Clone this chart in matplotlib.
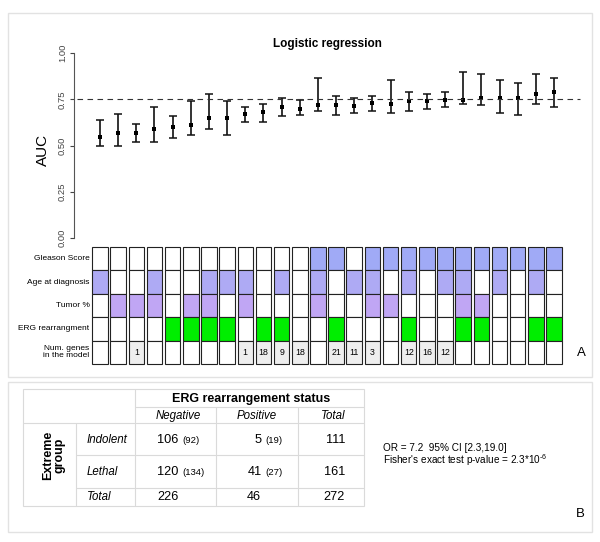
import numpy as np
import matplotlib.pyplot as plt
from matplotlib.patches import Rectangle

plt.rcParams['font.family'] = ['Liberation Sans', 'DejaVu Sans']
plt.rcParams['mathtext.fontset'] = 'custom'
plt.rcParams['mathtext.rm'] = 'Liberation Sans'
plt.rcParams['mathtext.it'] = 'Liberation Sans:italic'

# ---- panel A data: AUC with CI for 26 models ----
auc = [0.548, 0.569, 0.569, 0.589, 0.598, 0.609, 0.649, 0.649, 0.669, 0.679, 0.708, 0.700, 0.717,
       0.717, 0.715, 0.728, 0.726, 0.741, 0.739, 0.748, 0.748, 0.757, 0.757, 0.757, 0.777, 0.788]
auc_lo = [0.497, 0.497, 0.517, 0.517, 0.539, 0.557, 0.587, 0.557, 0.627, 0.627, 0.658, 0.667, 0.686,
          0.667, 0.676, 0.686, 0.676, 0.686, 0.697, 0.706, 0.726, 0.717, 0.676, 0.667, 0.726, 0.706]
auc_hi = [0.638, 0.669, 0.618, 0.706, 0.658, 0.742, 0.777, 0.739, 0.706, 0.726, 0.757, 0.746, 0.867,
          0.766, 0.757, 0.766, 0.856, 0.788, 0.777, 0.788, 0.896, 0.886, 0.856, 0.836, 0.886, 0.867]

# which variables are in each model
gleason = [0,0,0,0,0,0,0,0,0,0,0,0, 1,1,0,1,1,1,1,1,1,1,1,1,1,1]
age     = [1,0,0,1,0,0,1,1,1,0,1,0, 1,0,1,1,0,1,0,1,1,0,1,0,1,0]
tumor   = [0,1,1,1,0,1,1,0,1,0,0,0, 1,0,0,1,1,0,0,0,1,1,0,0,0,0]
erg     = [0,0,0,0,1,1,1,1,0,1,1,0, 0,1,0,0,0,1,0,0,1,1,0,0,1,1]
n_genes = ["", "", "1", "", "", "", "", "", "1", "18", "9", "18", "",
           "21", "11", "3", "", "12", "16", "12", "", "", "", "", "", ""]

row_labels = ["Gleason Score", "Age at diagnosis", "Tumor %", "ERG rearrangment",
              "Num. genes\nin the model"]
row_colors = ['#A0AAF6', '#AEAAF4', '#C0A6F4', '#00EE00']

# ---- panel B data ----
groups = ["Indolent", "Lethal"]
neg_obs = [106, 120]
neg_exp = [92, 134]
pos_obs = [5, 41]
pos_exp = [19, 27]
stats_lines = ["OR = 7.2  95% CI [2.3,19.0]",
               "Fisher's exact test p-value = 2.3*10$^{\\text{-}6}$"]

W, H = 600, 542
fig = plt.figure(figsize=(6, 5.42), dpi=100)

bg = fig.add_axes([0, 0, 1, 1])
bg.set_xlim(0, W)
bg.set_ylim(H, 0)
bg.axis('off')


def px_axes(left, top, right, bottom):
    return fig.add_axes([left / W, 1 - bottom / H, (right - left) / W, (bottom - top) / H])


# panel frames
frame_col = '#E2E2E2'
bg.add_patch(Rectangle((8, 13), 584, 364, fill=False, ec=frame_col, lw=1))
bg.add_patch(Rectangle((8, 382), 584, 150, fill=False, ec=frame_col, lw=1))

# ---- AUC plot ----
step = 18.16
xl = (-26 / step, (592 - 100) / step)
x = np.arange(len(auc))
auc_a = np.array(auc)
ax = px_axes(74, 53, 592, 238)
ax.set_facecolor('none')
ax.errorbar(x, auc_a, yerr=[auc_a - np.array(auc_lo), np.array(auc_hi) - auc_a],
            fmt='none', ecolor='#111111', elinewidth=1.2, capsize=2.7, capthick=1.1)
ax.plot(x, auc_a, 's', ms=2.6, mew=0, color='k')
ax.axhline(0.75, xmin=3 / 518, xmax=506 / 518, ls=(0, (5, 4)), color='#333333', lw=0.8)
ax.set_xlim(*xl)
ax.set_ylim(0, 1)
for s in ['top', 'right', 'bottom']:
    ax.spines[s].set_visible(False)
ax.spines['left'].set_color('#555555')
ax.spines['left'].set_linewidth(0.8)
ax.set_xticks([])
ax.set_yticks([0, 0.25, 0.5, 0.75, 1.0])
ax.set_yticklabels(['0.00', '0.25', '0.50', '0.75', '1.00'])
ax.tick_params(axis='y', labelrotation=90, labelsize=6.8, length=3, pad=2,
               colors='#444444', width=0.8)
for lab in ax.get_yticklabels():
    lab.set_va('center')

bg.text(327, 44, "Logistic regression", ha='center', va='center',
        fontsize=8.5, fontweight='bold')
bg.text(43, 150, "AUC", rotation=90, ha='center', va='center', fontsize=11)

# ---- model membership grid ----
g = px_axes(74, 247, 592, 364)
g.set_xlim(*xl)
g.set_ylim(5, 0)
g.axis('off')
cw = 15.5 / step
for i in range(len(auc)):
    flags = [gleason[i], age[i], tumor[i], erg[i]]
    for r in range(4):
        fc = row_colors[r] if flags[r] else 'white'
        g.add_patch(Rectangle((i - cw / 2, r), cw, 1, fc=fc, ec='#222222', lw=0.8,
                              clip_on=False))
    fc = '#EEEEEE' if n_genes[i] else 'white'
    g.add_patch(Rectangle((i - cw / 2, 4), cw, 1, fc=fc, ec='#222222', lw=0.8,
                          clip_on=False))
    if n_genes[i]:
        g.text(i, 4.5, n_genes[i], ha='center', va='center', fontsize=6.3)
for r, lab in enumerate(row_labels):
    g.text(-0.58, r + 0.5, lab, ha='right', va='center', fontsize=6,
           multialignment='right', linespacing=1.0)

bg.text(581, 353, "A", ha='center', va='center', fontsize=9.5)

# ---- panel B table ----
lc = '#DADADA'
lw = 0.8
bg.add_patch(Rectangle((23, 389), 341, 117, fill=False, ec=lc, lw=lw))
bg.vlines(76, 423, 506, color=lc, lw=lw)
bg.vlines(135, 389, 506, color=lc, lw=lw)
bg.vlines([216, 298], 407, 506, color=lc, lw=lw)
bg.hlines(407, 135, 364, color=lc, lw=lw)
bg.hlines(423, 23, 364, color=lc, lw=lw)
bg.hlines([455, 488], 76, 364, color=lc, lw=lw)

bg.text(251, 399, "ERG rearrangement status", ha='center', va='center',
        fontsize=9, fontweight='bold')
bg.text(178, 416, "Negative", ha='center', va='center', fontsize=8.3, style='italic')
bg.text(257, 416, "Positive", ha='center', va='center', fontsize=8.3, style='italic')
bg.text(345, 416, "Total", ha='right', va='center', fontsize=8.3, style='italic')
bg.text(54, 455, "Extreme\ngroup", rotation=90, ha='center', va='center',
        fontsize=9, fontweight='bold', linespacing=1.0)

row_y = [440, 472]
for k, grp in enumerate(groups):
    y = row_y[k]
    bg.text(87, y, grp, ha='left', va='center', fontsize=8.3, style='italic')
    bg.text(157, y, str(neg_obs[k]), ha='left', va='center', fontsize=9.2)
    bg.text(182, y + 0.5, "(%d)" % neg_exp[k], ha='left', va='center', fontsize=6.8)
    bg.text(261.5, y, str(pos_obs[k]), ha='right', va='center', fontsize=9.2)
    bg.text(265, y + 0.5, "(%d)" % pos_exp[k], ha='left', va='center', fontsize=6.8)
    bg.text(345, y, str(neg_obs[k] + pos_obs[k]), ha='right', va='center', fontsize=9.2)

bg.text(87, 497, "Total", ha='left', va='center', fontsize=8.3, style='italic')
bg.text(157, 497, str(sum(neg_obs)), ha='left', va='center', fontsize=9.2)
bg.text(247, 497, str(sum(pos_obs)), ha='left', va='center', fontsize=9.2)
bg.text(345, 497, str(sum(neg_obs) + sum(pos_obs)), ha='right', va='center', fontsize=9.2)

bg.text(383, 448, stats_lines[0], ha='left', va='center', fontsize=7.2)
bg.text(383, 460.5, stats_lines[1], ha='left', va='center', fontsize=7.2)

bg.text(580, 514, "B", ha='center', va='center', fontsize=9.5)

fig.savefig("out.png", dpi=100, facecolor='white')
